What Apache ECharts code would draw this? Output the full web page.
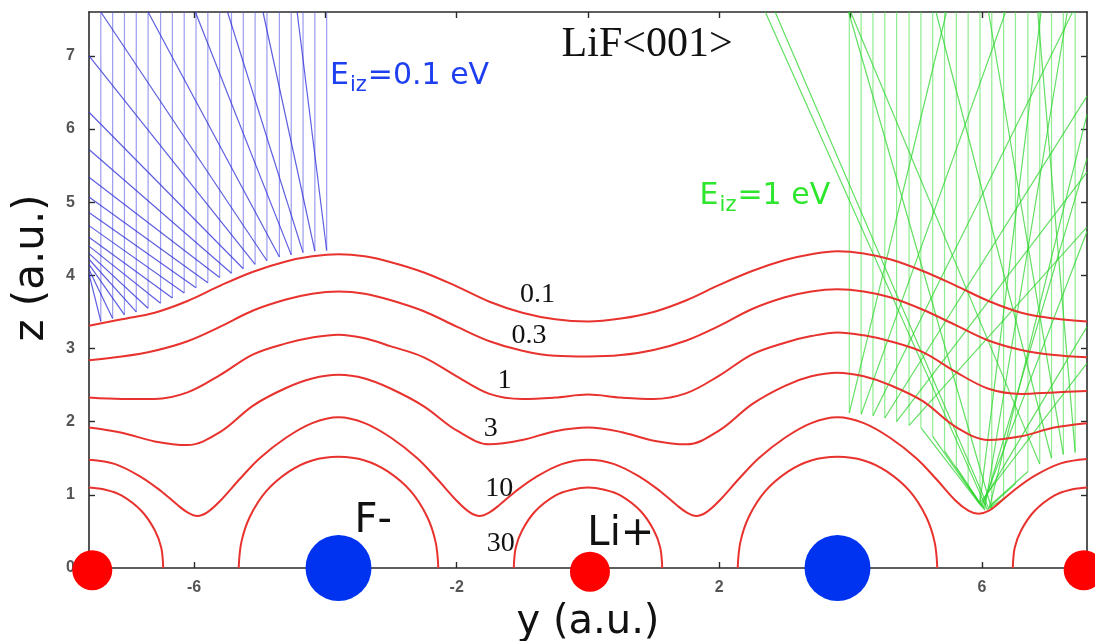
<!DOCTYPE html>
<html>
<head>
<meta charset="utf-8">
<script src="https://cdn.jsdelivr.net/npm/echarts@6/dist/echarts.min.js"></script>
<style>
  html, body { margin: 0; padding: 0; background: #fff; }
  #chart { width: 1095px; height: 641px; }
</style>
</head>
<body>
<div id="chart"></div>
<script>
// ---- axes (atomic units) ----
const yRange = [-7.6, 7.6];
const zRange = [0, 7.6];
const yTicks = [-6, -4, -2, 0, 2, 4, 6];
const yTickLabels = [-6, -2, 2, 6];
const zTicks = [0, 1, 2, 3, 4, 5, 6, 7];

// ---- ion sites on the surface row ----
const fluorineSites = [[-3.8, 0], [3.8, 0]];
const lithiumSites = [[-7.55, -0.03], [0.03, -0.05], [7.55, -0.03]];

// ---- equipotential contours, sampled along y ----
const contourY = [-7.6, -7.1, -6.6, -6.1, -5.6, -5.1, -4.6, -4.2, -3.8, -3.4, -3.0, -2.5, -2.0, -1.5, -1.0, -0.5, 0,
                  0.5, 1.0, 1.5, 2.0, 2.5, 3.0, 3.4, 3.8, 4.2, 4.6, 5.1, 5.6, 6.1, 6.6, 7.1, 7.6];
const contour0p1 = [3.31, 3.40, 3.49, 3.65, 3.86, 4.05, 4.19, 4.26, 4.29, 4.26, 4.18, 4.04, 3.85, 3.64, 3.49, 3.40, 3.37,
                    3.41, 3.50, 3.66, 3.87, 4.06, 4.21, 4.29, 4.33, 4.30, 4.22, 4.06, 3.86, 3.65, 3.49, 3.41, 3.37];
const contour0p3 = [2.84, 2.89, 2.97, 3.10, 3.30, 3.52, 3.67, 3.75, 3.78, 3.75, 3.66, 3.51, 3.30, 3.10, 2.97, 2.90, 2.89,
                    2.91, 2.98, 3.11, 3.31, 3.54, 3.70, 3.78, 3.81, 3.78, 3.70, 3.53, 3.32, 3.11, 2.98, 2.91, 2.88];
const contour1 = [2.33, 2.31, 2.31, 2.40, 2.64, 2.92, 3.07, 3.15, 3.19, 3.14, 3.03, 2.88, 2.62, 2.38, 2.31, 2.33, 2.37,
                  2.33, 2.31, 2.39, 2.63, 2.92, 3.08, 3.17, 3.22, 3.18, 3.10, 2.95, 2.68, 2.45, 2.38, 2.40, 2.42];
const contour3 = [1.92, 1.85, 1.73, 1.68, 1.86, 2.22, 2.46, 2.59, 2.64, 2.59, 2.45, 2.21, 1.88, 1.69, 1.75, 1.87, 1.92,
                  1.86, 1.74, 1.69, 1.88, 2.24, 2.49, 2.62, 2.67, 2.62, 2.50, 2.28, 1.93, 1.75, 1.80, 1.92, 1.98];

const contour10Y = [-7.6, -7.2, -6.8, -6.5, -6.25, -6.1, -5.95, -5.8, -5.6, -5.3, -5.0, -4.6, -4.2, -3.8,
                    -3.4, -3.0, -2.6, -2.3, -2.0, -1.8, -1.65, -1.5, -1.35, -1.1, -0.8, -0.4, 0,
                    0.4, 0.8, 1.1, 1.35, 1.5, 1.65, 1.8, 2.0, 2.3, 2.6, 3.0, 3.4, 3.8,
                    4.2, 4.6, 5.0, 5.3, 5.6, 5.8, 5.95, 6.1, 6.25, 6.5, 6.8, 7.2, 7.6];
const contour10 = [1.48, 1.42, 1.24, 1.05, 0.86, 0.76, 0.71, 0.76, 0.92, 1.22, 1.50, 1.78, 1.98, 2.06,
                   1.98, 1.78, 1.50, 1.22, 0.92, 0.76, 0.71, 0.76, 0.86, 1.05, 1.24, 1.42, 1.48,
                   1.42, 1.24, 1.05, 0.86, 0.76, 0.71, 0.76, 0.92, 1.22, 1.50, 1.78, 1.98, 2.06,
                   1.98, 1.78, 1.50, 1.22, 0.92, 0.78, 0.74, 0.78, 0.88, 1.07, 1.26, 1.43, 1.49];

// the 30 eV contour closes around each ion
const contour30LiLeftY  = [-7.6, -7.35, -7.1, -6.8, -6.6, -6.5, -6.47];
const contour30LiLeftZ  = [1.10, 1.07, 0.99, 0.78, 0.52, 0.28, 0];
const contour30FLeftY   = [-5.32, -5.28, -5.15, -4.9, -4.55, -4.2, -3.8, -3.4, -3.05, -2.7, -2.45, -2.32, -2.28];
const contour30FLeftZ   = [0, 0.35, 0.70, 1.05, 1.32, 1.47, 1.52, 1.47, 1.32, 1.05, 0.70, 0.35, 0];
const contour30LiMidY   = [-1.13, -1.1, -1.0, -0.8, -0.5, -0.25, 0, 0.25, 0.5, 0.8, 1.0, 1.1, 1.13];
const contour30LiMidZ   = [0, 0.28, 0.52, 0.78, 0.99, 1.07, 1.10, 1.07, 0.99, 0.78, 0.52, 0.28, 0];
const contour30FRightY  = [2.28, 2.32, 2.45, 2.7, 3.05, 3.4, 3.8, 4.2, 4.55, 4.9, 5.15, 5.28, 5.32];
const contour30FRightZ  = [0, 0.35, 0.70, 1.05, 1.32, 1.47, 1.52, 1.47, 1.32, 1.05, 0.70, 0.35, 0];
const contour30LiRightY = [6.47, 6.5, 6.6, 6.8, 7.1, 7.35, 7.6];
const contour30LiRightZ = [0, 0.28, 0.52, 0.78, 0.99, 1.07, 1.10];

// ---- trajectories, E_iz = 0.1 eV: start y, turning height, exit point ----
const blueStartY = [-7.42, -7.24, -7.06, -6.88, -6.70, -6.51, -6.33, -6.15, -5.97, -5.79,
                    -5.61, -5.43, -5.25, -5.07, -4.89, -4.70, -4.52, -4.34, -4.16, -3.98];
const blueTurnZ  = [3.37, 3.41, 3.46, 3.50, 3.55, 3.62, 3.69, 3.76, 3.83, 3.90,
                    3.97, 4.03, 4.09, 4.15, 4.20, 4.25, 4.28, 4.31, 4.33, 4.34];
const blueExitY  = [-7.6, -7.6, -7.6, -7.6, -7.6, -7.6, -7.6, -7.6, -7.6, -7.6,
                    -7.6, -7.6, -7.6, -7.6, -7.42, -6.70, -5.98, -5.49, -4.95, -4.43];
const blueExitZ  = [4.02, 4.08, 4.15, 4.22, 4.30, 4.40, 4.52, 4.68, 4.86, 5.07,
                    5.34, 5.72, 6.23, 7.00, 7.6, 7.6, 7.6, 7.6, 7.6, 7.6];

// ---- trajectories, E_iz = 1 eV (some cross the valley floor before leaving) ----
const greenStartY = [3.98, 4.16, 4.34, 4.52, 4.70, 4.89, 5.07, 5.25, 5.43, 5.61,
                     5.79, 5.97, 6.15, 6.33, 6.51, 6.70, 6.88, 7.06, 7.24, 7.42];
const greenTurnZ  = [2.12, 2.10, 2.08, 2.05, 2.00, 1.95, 1.92, 1.80, 1.60, 1.38,
                     1.12, 0.90, 0.80, 0.95, 1.15, 1.32, 1.42, 1.50, 1.55, 1.58];
const greenViaY   = [null, null, null, null, null, null, 5.96, 5.98, 6.00, 6.02,
                     6.04, null, null, 6.08, 6.10, 6.12, null, null, null, null];
const greenViaZ   = [null, null, null, null, null, null, 0.88, 0.86, 0.84, 0.82,
                     0.80, null, null, 0.80, 0.82, 0.85, null, null, null, null];
const greenExitY  = [5.46, 6.36, 7.38, 7.6, 7.6, 7.6, 7.6, 7.6, 7.6, 7.6,
                     7.30, 6.90, 3.97, 2.70, 2.85, 7.6, 4.00, 5.30, 6.10, 6.85];
const greenExitZ  = [7.6, 7.6, 7.6, 6.45, 5.41, 4.66, 2.80, 3.30, 4.60, 5.60,
                     7.6, 7.6, 7.6, 7.6, 7.6, 6.20, 7.6, 7.6, 7.6, 7.6];

// ---- text ----
const contourLevels = ['0.1', '0.3', '1', '3', '10', '30'];
const contourLabelAt = [[-0.77, 3.74], [-0.90, 3.18], [-1.27, 2.56], [-1.48, 1.91], [-1.35, 1.09], [-1.33, 0.33]];

const zip = (xs, zs) => xs.map((x, i) => [x, zs[i]]);

const frame = { show: true, onZero: false, lineStyle: { color: '#2a2a2a', width: 1.6 } };
const tick = (vals) => ({ show: true, inside: true, length: 6, customValues: vals,
                          lineStyle: { color: '#2a2a2a', width: 1.4 } });
const tickFont = { fontFamily: 'Liberation Sans', fontWeight: 'bold', fontSize: 16, color: '#555' };

function contourSeries(data) {
  return { type: 'line', data: data, smooth: 0.35, showSymbol: false, symbol: 'none', z: 4,
           lineStyle: { color: '#e8322e', width: 2 }, silent: true };
}

// incoming leg: straight down from the top edge; outgoing leg: turning point, optional valley point, exit
function trajectoryCoords(startY, turnZ, exitY, exitZ, viaY, viaZ) {
  return {
    incoming: startY.map((y, i) => ({ coords: [[y, zRange[1]], [y, turnZ[i]]] })),
    outgoing: startY.map((y, i) => {
      const pts = [[y, turnZ[i]]];
      if (viaY && viaY[i] !== null) pts.push([viaY[i], viaZ[i]]);
      pts.push([exitY[i], exitZ[i]]);
      return { coords: pts };
    })
  };
}
const blue = trajectoryCoords(blueStartY, blueTurnZ, blueExitY, blueExitZ);
const green = trajectoryCoords(greenStartY, greenTurnZ, greenExitY, greenExitZ, greenViaY, greenViaZ);

function linesSeries(data, color, opacity) {
  return { type: 'lines', coordinateSystem: 'cartesian2d', polyline: true, data: data, z: 2, silent: true,
           lineStyle: { color: color, width: 1.2, opacity: opacity } };
}

function textSeries(data, label) {
  return { type: 'scatter', symbolSize: 0, z: 7, silent: true, clip: false, data: data,
           itemStyle: { opacity: 1 },
           label: Object.assign({ show: true, position: 'inside', formatter: (p) => p.name }, label) };
}

const subLabel = (color) => ({
  position: 'right', distance: 0,
  formatter: (p) => '{m|E}{s|iz}{m|=' + p.name + ' eV}',
  rich: { m: { fontFamily: 'DejaVu Sans', fontSize: 30, color: color, verticalAlign: 'top', lineHeight: 31 },
          s: { fontFamily: 'DejaVu Sans', fontSize: 21, color: color, verticalAlign: 'top', lineHeight: 21, padding: [14, 1, 0, 1] } }
});

const chart = echarts.init(document.getElementById('chart'));
chart.setOption({
  animation: false,
  backgroundColor: '#ffffff',
  grid: { left: 89, right: 8, top: 12, bottom: 73, containLabel: false, outerBoundsMode: 'none' },
  xAxis: [
    { type: 'value', min: yRange[0], max: yRange[1], position: 'bottom', axisLine: frame, axisTick: tick(yTicks),
      axisLabel: Object.assign({ customValues: yTickLabels, margin: 12 }, tickFont), splitLine: { show: false },
      name: 'y (a.u.)', nameLocation: 'middle', nameGap: 35,
      nameTextStyle: { fontFamily: 'DejaVu Sans', fontSize: 40, color: '#111' } },
    { type: 'value', min: yRange[0], max: yRange[1], position: 'top', axisLine: frame, axisTick: tick(yTicks),
      axisLabel: { show: false }, splitLine: { show: false } }
  ],
  yAxis: [
    { type: 'value', min: zRange[0], max: zRange[1], position: 'left', axisLine: frame, axisTick: tick(zTicks),
      axisLabel: Object.assign({ customValues: zTicks, margin: 14 }, tickFont), splitLine: { show: false } },
    { type: 'value', min: zRange[0], max: zRange[1], position: 'right', axisLine: frame, axisTick: tick(zTicks),
      axisLabel: { show: false }, splitLine: { show: false } }
  ],
  graphic: [
    { type: 'text', x: 32, y: 268, rotation: Math.PI / 2,
      style: { text: 'z (a.u.)', font: '42px "DejaVu Sans"', fill: '#111', textAlign: 'center', textVerticalAlign: 'middle' } }
  ],
  series: [
    linesSeries(blue.incoming, '#5a5ae6', 0.6),
    linesSeries(blue.outgoing, '#3434d8', 0.8),
    linesSeries(green.incoming, '#46e046', 0.6),
    linesSeries(green.outgoing, '#2ed42e', 0.75),
    contourSeries(zip(contourY, contour0p1)),
    contourSeries(zip(contourY, contour0p3)),
    contourSeries(zip(contourY, contour1)),
    contourSeries(zip(contourY, contour3)),
    contourSeries(zip(contour10Y, contour10)),
    contourSeries(zip(contour30LiLeftY, contour30LiLeftZ)),
    contourSeries(zip(contour30FLeftY, contour30FLeftZ)),
    contourSeries(zip(contour30LiMidY, contour30LiMidZ)),
    contourSeries(zip(contour30FRightY, contour30FRightZ)),
    contourSeries(zip(contour30LiRightY, contour30LiRightZ)),
    { type: 'scatter', data: fluorineSites, symbolSize: 66, clip: false, z: 6, silent: true,
      itemStyle: { color: '#0033f0', opacity: 1 } },
    { type: 'scatter', data: lithiumSites, symbolSize: 40, clip: false, z: 6, silent: true,
      itemStyle: { color: '#ff0000', opacity: 1 } },
    textSeries(contourLevels.map((t, i) => ({ value: contourLabelAt[i], name: t })),
               { fontFamily: 'Liberation Serif', fontSize: 28, color: '#111' }),
    textSeries([{ value: [0.90, 7.15], name: 'LiF<001>' }],
               { fontFamily: 'Liberation Serif', fontSize: 42, color: '#111' }),
    textSeries([{ value: [-3.27, 0.63], name: 'F-' }, { value: [0.50, 0.45], name: 'Li+' }],
               { fontFamily: 'DejaVu Sans', fontSize: 40, color: '#111' }),
    textSeries([{ value: [-3.93, 6.72], name: '0.1' }], subLabel('#1e3ff0')),
    textSeries([{ value: [1.70, 5.08], name: '1' }], subLabel('#2ee62e'))
  ]
});
</script>
</body>
</html>
